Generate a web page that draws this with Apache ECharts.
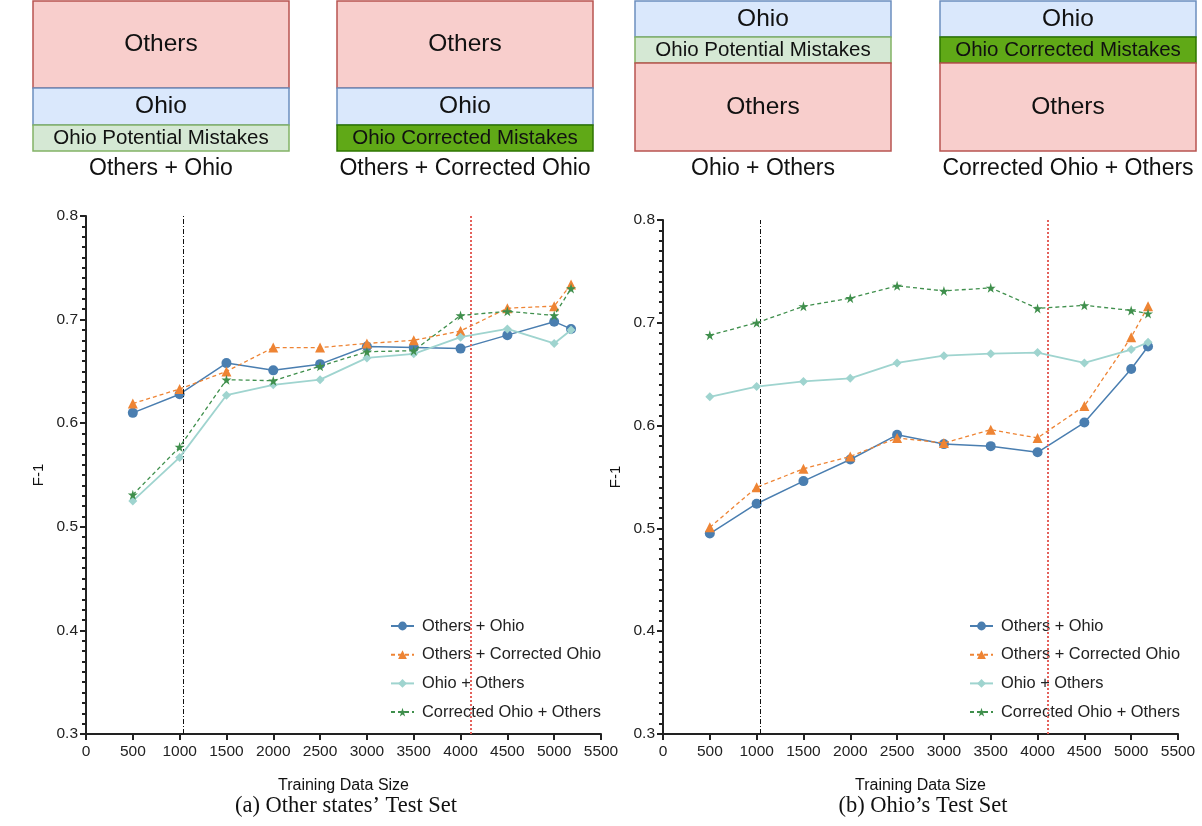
<!DOCTYPE html>
<html>
<head>
<meta charset="utf-8">
<script src="https://cdn.jsdelivr.net/npm/echarts@6/dist/echarts.min.js"></script>
<style>
html,body{margin:0;padding:0;background:#fff;}
#chart{width:1202px;height:826px;}
</style>
</head>
<body>
<div id="chart"></div>
<script>
// ---- data ----
const seriesNames = ['Others + Ohio', 'Others + Corrected Ohio', 'Ohio + Others', 'Corrected Ohio + Others'];
const trainingSizes = [500, 1000, 1500, 2000, 2500, 3000, 3500, 4000, 4500, 5000, 5180];
const xTicks = [0, 500, 1000, 1500, 2000, 2500, 3000, 3500, 4000, 4500, 5000, 5500];
const yTicks = [0.3, 0.4, 0.5, 0.6, 0.7, 0.8];

// (a) Other states' Test Set
const aOthersOhio          = [0.610, 0.628, 0.658, 0.651, 0.657, 0.674, 0.673, 0.672, 0.685, 0.698, 0.691];
const aOthersCorrectedOhio = [0.619, 0.633, 0.650, 0.673, 0.673, 0.677, 0.680, 0.689, 0.711, 0.713, 0.734];
const aOhioOthers          = [0.525, 0.567, 0.627, 0.637, 0.642, 0.663, 0.667, 0.683, 0.691, 0.677, 0.690];
const aCorrectedOhioOthers = [0.531, 0.577, 0.642, 0.641, 0.655, 0.669, 0.670, 0.704, 0.708, 0.704, 0.730];

// (b) Ohio's Test Set
const bOthersOhio          = [0.495, 0.524, 0.546, 0.567, 0.591, 0.582, 0.580, 0.574, 0.603, 0.655, 0.677];
const bOthersCorrectedOhio = [0.501, 0.540, 0.558, 0.570, 0.588, 0.583, 0.596, 0.588, 0.619, 0.686, 0.716];
const bOhioOthers          = [0.628, 0.638, 0.643, 0.646, 0.661, 0.668, 0.670, 0.671, 0.661, 0.674, 0.681];
const bCorrectedOhioOthers = [0.688, 0.700, 0.716, 0.724, 0.736, 0.731, 0.734, 0.714, 0.717, 0.712, 0.709];

// reference vertical lines (training size)
const refLineBlack = 1040;
const refLineRed = 4110;

// ---- styles ----
const colors = ['#4a7eb0', '#ee8434', '#9fd4cf', '#3f8f4c'];
const symbols = ['circle', 'triangle', 'diamond', 'path://M50,0 L61,35 L98,35 L68,57 L79,91 L50,70 L21,91 L32,57 L2,35 L39,35 Z'];
const symbolSizes = [10, 10, 9, 10];
const lineTypes = ['solid', [4, 3], 'solid', [4, 3]];
const lineWidths = [1.5, 1.3, 1.8, 1.3];

const FONT = 'Liberation Sans, Arial, Helvetica, sans-serif';
const SERIF = 'Liberation Serif, Times New Roman, serif';

function zip(xs, ys) { return xs.map((x, i) => [x, ys[i]]); }

const dataA = [aOthersOhio, aOthersCorrectedOhio, aOhioOthers, aCorrectedOhioOthers];
const dataB = [bOthersOhio, bOthersCorrectedOhio, bOhioOthers, bCorrectedOhioOthers];

function makeSeries(dataSets, gi) {
  return dataSets.map((d, i) => {
    const s = {
      name: seriesNames[i],
      type: 'line',
      xAxisIndex: gi, yAxisIndex: gi,
      data: zip(trainingSizes, d),
      symbol: symbols[i],
      symbolSize: symbolSizes[i],
      itemStyle: { color: colors[i] },
      lineStyle: { color: colors[i], width: lineWidths[i], type: lineTypes[i] },
      emphasis: { disabled: true },
      z: 3 + i,
      animation: false
    };
    if (i === 0) {
      s.markLine = {
        silent: true, symbol: 'none', label: { show: false },
        data: [
          { xAxis: refLineBlack, lineStyle: { color: '#111', width: 1, type: [5, 2, 1, 2] } },
          { xAxis: refLineRed, lineStyle: { color: '#e4615b', width: 2, type: [2, 2] } }
        ]
      };
    }
    return s;
  });
}

function xAxisCfg(gi) {
  return {
    type: 'value', gridIndex: gi, min: xTicks[0], max: xTicks[xTicks.length - 1], interval: 500,
    name: 'Training Data Size', nameLocation: 'middle', nameGap: 44,
    nameTextStyle: { fontFamily: FONT, fontSize: 16, color: '#111' },
    axisLine: { show: true, lineStyle: { color: '#222', width: 2 } },
    axisTick: { show: true, length: 6, lineStyle: { color: '#222', width: 2 } },
    axisLabel: { fontFamily: FONT, fontSize: 15.5, color: '#222', margin: 10, formatter: v => String(v) },
    splitLine: { show: false }
  };
}
function yAxisCfg(gi) {
  return {
    type: 'value', gridIndex: gi, min: yTicks[0], max: yTicks[yTicks.length - 1], interval: 0.1,
    name: 'F-1', nameLocation: 'middle', nameGap: 40, nameRotate: 90,
    nameTextStyle: { fontFamily: FONT, fontSize: 15, color: '#111' },
    axisLine: { show: true, lineStyle: { color: '#222', width: 2 } },
    axisTick: { show: true, length: 6, lineStyle: { color: '#222', width: 2 } },
    minorTick: { show: true, splitNumber: 10, length: 4, lineStyle: { color: '#222', width: 2 } },
    axisLabel: { fontFamily: FONT, fontSize: 15.5, color: '#222', margin: 8, formatter: v => v.toFixed(1) },
    splitLine: { show: false }
  };
}

function legendCfg(left) {
  return {
    data: seriesNames, orient: 'vertical', left: left, top: 612,
    itemWidth: 23, itemHeight: 11, itemGap: 10.7,
    textStyle: { fontFamily: FONT, fontSize: 16.4, lineHeight: 18, color: '#222', padding: [0, 0, 0, 3] },
    selectedMode: false
  };
}

// ---- top schematic diagrams ----
const RED = { fill: '#f8cecc', stroke: '#b85450' };
const BLUE = { fill: '#dae8fc', stroke: '#6c8ebf' };
const LGREEN = { fill: '#d5e8d4', stroke: '#82b366' };
const DGREEN = { fill: '#60a917', stroke: '#2d7600' };

function box(x, y, w, h, st, label, fs) {
  return {
    type: 'rect', shape: { x: x, y: y, width: w, height: h },
    style: { fill: st.fill, stroke: st.stroke, lineWidth: 1.5 },
    textContent: { style: { text: label, font: fs + 'px ' + FONT, fill: '#111' } },
    textConfig: { position: 'inside' }
  };
}
function caption(cx, y, txt, fs, fam) {
  return { type: 'text', x: cx, y: y, style: { text: txt, font: fs + 'px ' + fam, fill: '#111', textAlign: 'center', textVerticalAlign: 'middle' } };
}

const BW = 256;
const BIG = 24.5, SMALL = 20.5, CAP = 23;
const graphics = [
  // diagram 1
  box(33, 1, BW, 87, RED, 'Others', BIG),
  box(33, 88, BW, 37, BLUE, 'Ohio', BIG),
  box(33, 125, BW, 26, LGREEN, 'Ohio Potential Mistakes', SMALL),
  caption(161, 169, 'Others + Ohio', CAP, FONT),
  // diagram 2
  box(337, 1, BW, 87, RED, 'Others', BIG),
  box(337, 88, BW, 37, BLUE, 'Ohio', BIG),
  box(337, 125, BW, 26, DGREEN, 'Ohio Corrected Mistakes', SMALL),
  caption(465, 169, 'Others + Corrected Ohio', CAP, FONT),
  // diagram 3
  box(635, 1, BW, 36, BLUE, 'Ohio', BIG),
  box(635, 37, BW, 26, LGREEN, 'Ohio Potential Mistakes', SMALL),
  box(635, 63, BW, 88, RED, 'Others', BIG),
  caption(763, 169, 'Ohio + Others', CAP, FONT),
  // diagram 4
  box(940, 1, BW, 36, BLUE, 'Ohio', BIG),
  box(940, 37, BW, 26, DGREEN, 'Ohio Corrected Mistakes', SMALL),
  box(940, 63, BW, 88, RED, 'Others', BIG),
  caption(1068, 169, 'Corrected Ohio + Others', CAP, FONT),
  // sub-captions
  caption(346, 806, '(a) Other states\u2019 Test Set', 22.5, SERIF),
  caption(923, 806, '(b) Ohio\u2019s Test Set', 22.5, SERIF)
];

const chart = echarts.init(document.getElementById('chart'), null, { renderer: 'canvas' });
chart.setOption({
  backgroundColor: '#fff',
  animation: false,
  grid: [
    { left: 86, top: 216, width: 515, height: 518 },
    { left: 663, top: 220, width: 515, height: 514 }
  ],
  xAxis: [xAxisCfg(0), xAxisCfg(1)],
  yAxis: [yAxisCfg(0), yAxisCfg(1)],
  legend: [legendCfg(385), legendCfg(964)],
  series: makeSeries(dataA, 0).concat(makeSeries(dataB, 1)),
  graphic: graphics
});
</script>
</body>
</html>
